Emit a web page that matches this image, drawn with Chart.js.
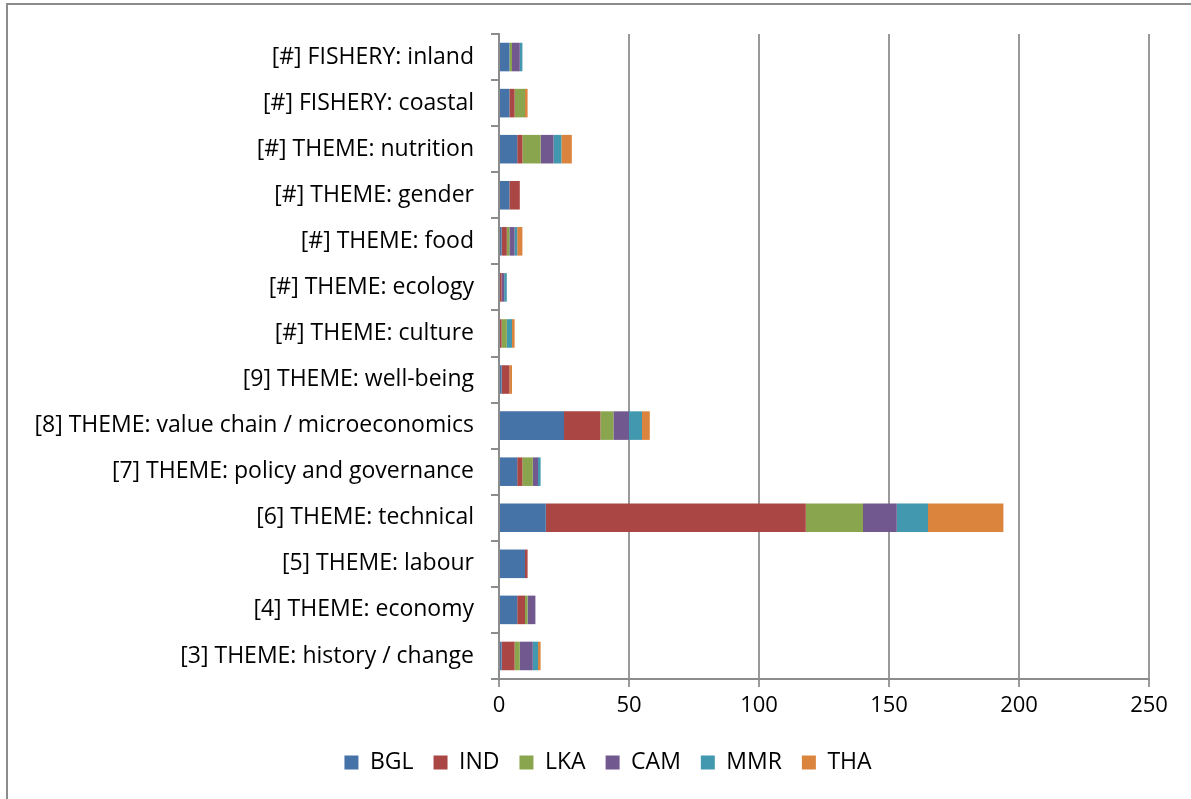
<!DOCTYPE html>
<html>
<head>
<meta charset="utf-8">
<script src="https://cdn.jsdelivr.net/npm/chart.js@4.4.1/dist/chart.umd.min.js"></script>
<style>
  html, body { margin: 0; padding: 0; background: #fff; overflow: hidden; }
  #wrap { position: relative; width: 1191px; height: 799px; }
  #frame { position: absolute; left: 6px; top: 3px; width: 1300px; height: 900px;
           border: 2px solid #8c8c8c; box-sizing: border-box; }
  #c { position: absolute; left: 0; top: 0; }
</style>
</head>
<body>
<div id="wrap">
  <div id="frame"></div>
  <canvas id="c" width="1191" height="799"></canvas>
</div>
<script>
// Categories, listed top to bottom
const categories = [
  '[#] FISHERY: inland',
  '[#] FISHERY: coastal',
  '[#] THEME: nutrition',
  '[#] THEME: gender',
  '[#] THEME: food',
  '[#] THEME: ecology',
  '[#] THEME: culture',
  '[9] THEME: well-being',
  '[8] THEME: value chain / microeconomics',
  '[7] THEME: policy and governance',
  '[6] THEME: technical',
  '[5] THEME: labour',
  '[4] THEME: economy',
  '[3] THEME: history / change'
];

// Counts per country
const BGL = [4, 4, 7, 4, 1, 0, 0, 1, 25, 7, 18, 10, 7, 1];
const IND = [0, 2, 2, 4, 2, 1, 1, 3, 14, 2, 100, 1, 3, 5];
const LKA = [1, 4, 7, 0, 1, 0, 2, 0, 5, 4, 22, 0, 1, 2];
const CAM = [3, 0, 5, 0, 2, 1, 0, 0, 6, 2, 13, 0, 3, 5];
const MMR = [1, 0, 3, 0, 1, 1, 2, 0, 5, 1, 12, 0, 0, 2];
const THA = [0, 1, 4, 0, 2, 0, 1, 1, 3, 0, 29, 0, 0, 1];

const xTicks = [0, 50, 100, 150, 200, 250];

const FONT = '"Open Sans", "Noto Sans", sans-serif';

const series = [
  { label: 'BGL', data: BGL, color: '#4572A7' },
  { label: 'IND', data: IND, color: '#AA4643' },
  { label: 'LKA', data: LKA, color: '#89A54E' },
  { label: 'CAM', data: CAM, color: '#71588F' },
  { label: 'MMR', data: MMR, color: '#4198AF' },
  { label: 'THA', data: THA, color: '#DB843D' }
];

// Centre the legend row under the plot rather than the whole canvas
const legendShift = {
  id: 'legendShift',
  afterLayout(chart) {
    if (chart.legend) { chart.legend.left = 67; }
  }
};

new Chart(document.getElementById('c'), {
  type: 'bar',
  data: {
    labels: categories,
    datasets: series.map(s => ({
      label: s.label,
      data: s.data,
      backgroundColor: s.color,
      borderWidth: 0,
      barPercentage: 0.62,
      categoryPercentage: 1.0
    }))
  },
  options: {
    indexAxis: 'y',
    responsive: false,
    devicePixelRatio: 1,
    animation: false,
    layout: { padding: { left: 0, top: 34, right: 42, bottom: 15 } },
    scales: {
      x: {
        stacked: true,
        min: 0,
        max: 250,
        afterBuildTicks: s => { s.ticks = xTicks.map(v => ({ value: v })); },
        afterFit: s => { s.height = 52; },
        ticks: { color: '#000', font: { family: FONT, size: 22 }, padding: 6 },
        grid: { color: '#9a9a9a', lineWidth: 2, tickLength: 8, drawTicks: true },
        border: { color: '#8c8c8c', width: 2 }
      },
      y: {
        stacked: true,
        afterFit: s => { s.width = 499; },
        ticks: { color: '#000', font: { family: FONT, size: 23 }, padding: 17, autoSkip: false },
        grid: { drawOnChartArea: false, color: '#8c8c8c', lineWidth: 2, tickLength: 8 },
        border: { color: '#8c8c8c', width: 2 }
      }
    },
    plugins: {
      legend: {
        position: 'bottom',
        labels: {
          color: '#000',
          font: { family: FONT, size: 23 },
          boxWidth: 14,
          boxHeight: 14,
          padding: 20
        }
      },
      tooltip: { enabled: false }
    }
  },
  plugins: [legendShift]
});
</script>
</body>
</html>
